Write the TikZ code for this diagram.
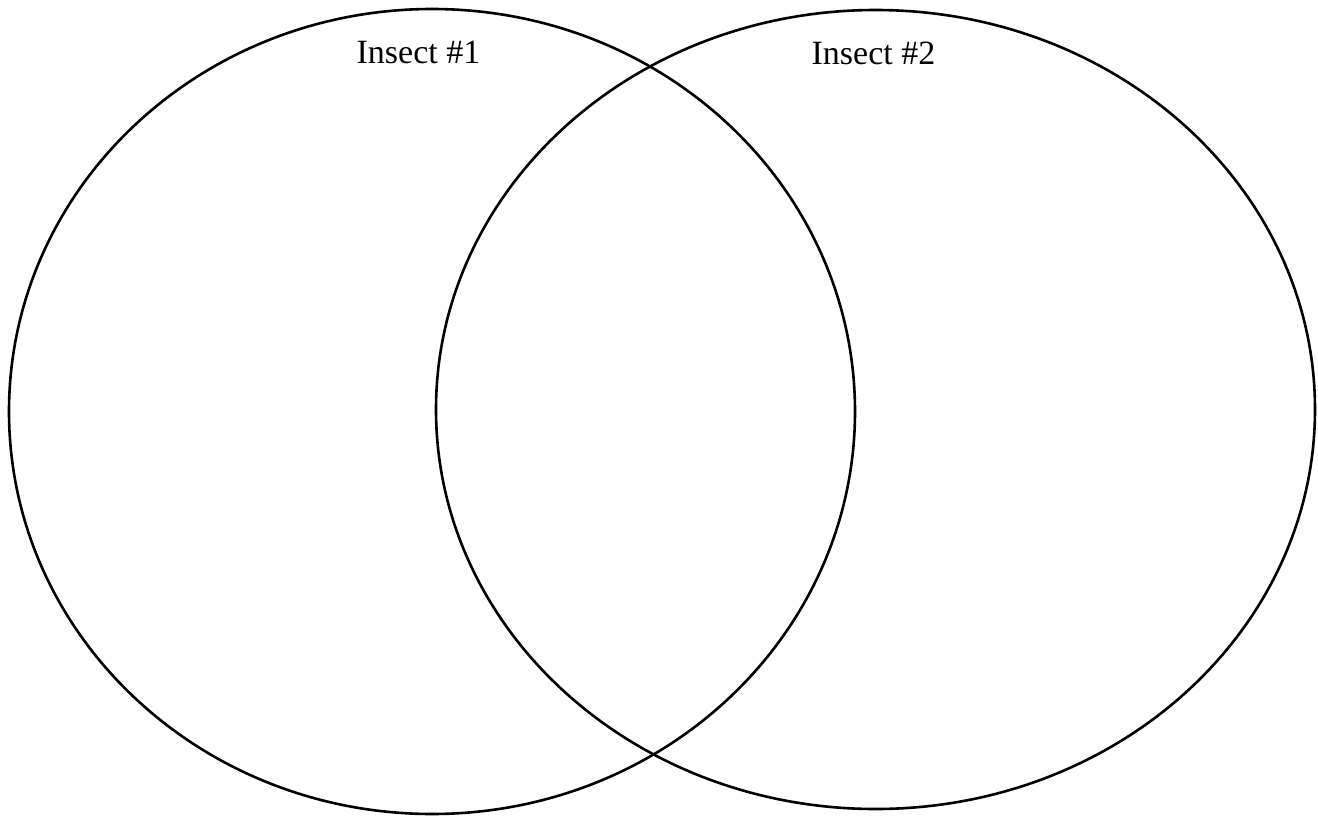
\documentclass[tikz,border=0pt]{standalone}
\usepackage{fontspec}
\setmainfont{Liberation Serif}
\usetikzlibrary{shapes.geometric}
\begin{document}
\begin{tikzpicture}[x=1pt,y=-1pt,
  setring/.style={draw=black, line width=2.6pt, ellipse, inner sep=0pt, outer sep=0pt},
  setlabel/.style={anchor=base, inner sep=0pt, font=\fontsize{34}{40}\selectfont}]
\useasboundingbox[fill=white] (0,0) rectangle (1318,819);
\node[setring, minimum width=846pt, minimum height=805pt] (left) at (432,411.5) {};
\node[setring, minimum width=879pt, minimum height=799pt] (right) at (875.5,409.5) {};
\node[setlabel] (l1) at (418.5,63) {Insect \#1};
\node[setlabel] (l2) at (873.5,64) {Insect \#2};
\end{tikzpicture}
\end{document}
